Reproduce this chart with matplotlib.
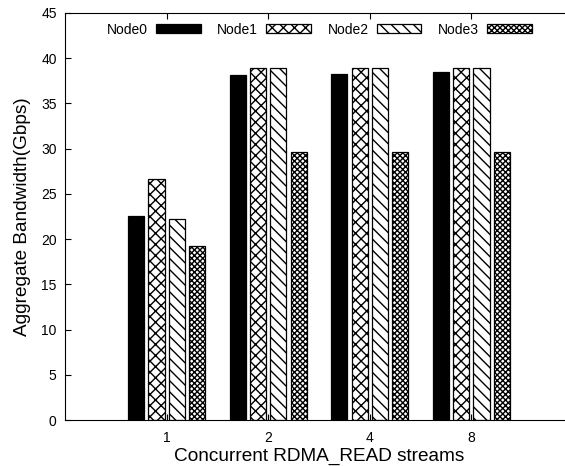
import numpy as np
import matplotlib
matplotlib.use("Agg")
import matplotlib.pyplot as plt

plt.rcParams['font.family'] = ['Liberation Sans', 'DejaVu Sans']
plt.rcParams['hatch.linewidth'] = 1.0

# 동시 RDMA_READ 스트림 수별 노드 대역폭 (Gbps)
streams = ['1', '2', '4', '8']
node0 = [22.6, 38.2, 38.3, 38.5]
node1 = [26.7, 38.9, 38.9, 38.9]
node2 = [22.2, 38.9, 38.9, 38.9]
node3 = [19.2, 29.6, 29.6, 29.6]

series = [
    ('Node0', node0, 'black', ''),
    ('Node1', node1, 'white', 'xxx'),
    ('Node2', node2, 'white', '\\\\\\'),
    ('Node3', node3, 'white', 'xxxxxx'),
]

fig = plt.figure(figsize=(5.65, 4.66), dpi=100)
ax = fig.add_axes([65 / 565, 46 / 466, 508 / 565, 407 / 466])

x = np.arange(len(streams))
width = 0.16
step = 0.2
for i, (name, vals, fc, hatch) in enumerate(series):
    ax.bar(x + (i - 1.5) * step, vals, width, color=fc, edgecolor='black',
           hatch=hatch, linewidth=0.9, label=name)

ax.set_xlim(-1, 4)
ax.set_ylim(0, 45)
ax.set_yticks(range(0, 46, 5))
ax.set_xticks(x)
ax.set_xticklabels(streams)
ax.tick_params(direction='in', top=True, right=False, length=4, labelsize=10)
ax.tick_params(axis='x', pad=8)
ax.tick_params(axis='y', pad=6)
ax.spines['right'].set_visible(False)

ax.set_xlabel('Concurrent RDMA_READ streams', fontsize=13.7, labelpad=2)
ax.set_ylabel('Aggregate Bandwidth(Gbps)', fontsize=13.7, labelpad=7)

ax.legend(ncol=4, loc='upper left', bbox_to_anchor=(0.063, 1.0), frameon=False,
          markerfirst=False, fontsize=10, handlelength=3.2, handleheight=0.6,
          columnspacing=1.2, handletextpad=0.6, borderaxespad=0.3)

fig.savefig('out.png', dpi=100)
